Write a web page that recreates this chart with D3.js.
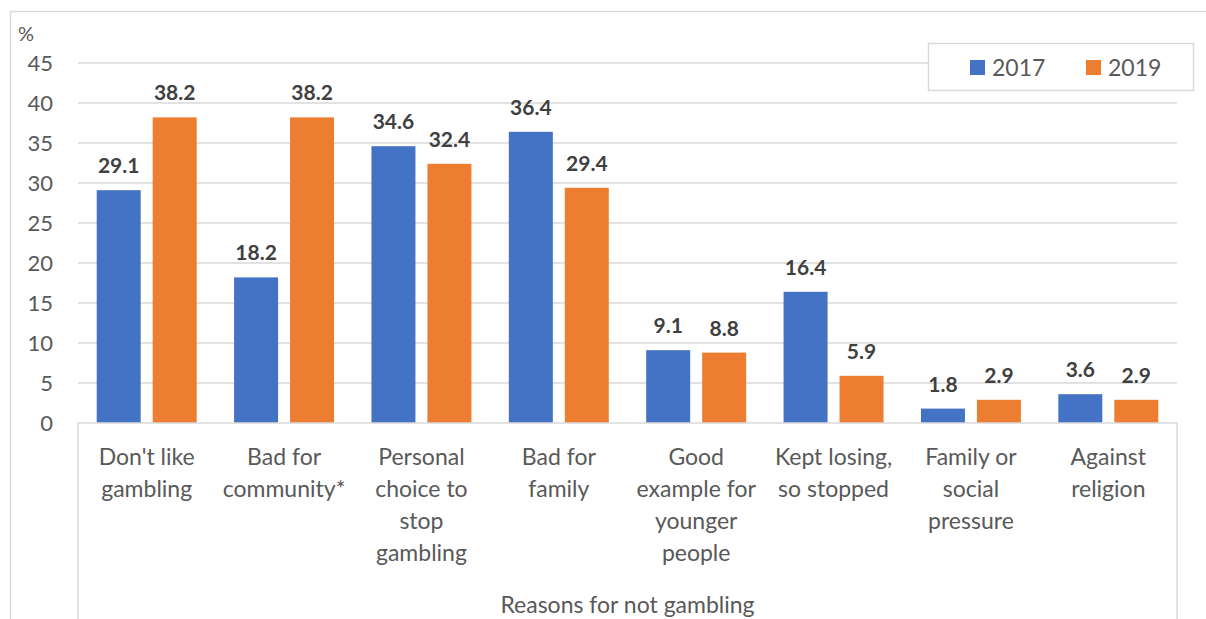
<!DOCTYPE html>
<html>
<head>
    <meta charset="utf-8" />
    <title>Reasons for not gambling</title>
    <script src="https://cdn.jsdelivr.net/npm/d3@7/dist/d3.min.js"></script>
    <style>
        body { margin: 0; background: #fff; }
        text { font-family: Lato, "Open Sans", sans-serif; }
    </style>
</head>
<body>
    <script>
        var categories = [
            ["Don't like", "gambling"],
            ["Bad for", "community*"],
            ["Personal", "choice to", "stop", "gambling"],
            ["Bad for", "family"],
            ["Good", "example for", "younger", "people"],
            ["Kept losing,", "so stopped"],
            ["Family or", "social", "pressure"],
            ["Against", "religion"]
        ];
        var values2017 = [29.1, 18.2, 34.6, 36.4, 9.1, 16.4, 1.8, 3.6];
        var values2019 = [38.2, 38.2, 32.4, 29.4, 8.8, 5.9, 2.9, 2.9];
        var seriesNames = ["2017", "2019"];
        var yTicks = [0, 5, 10, 15, 20, 25, 30, 35, 40, 45];

        var width = 1206, height = 619;
        var plotLeft = 78, plotRight = 1177, plotTop = 63, plotBottom = 423;
        var colors = ["#4472C4", "#ED7D31"];
        var gridColor = "#d9d9d9";
        var textColor = "#595959";

        var svg = d3.select("body").append("svg")
            .attr("width", width)
            .attr("height", height);

        // outer frame (only top and left are visible in the crop)
        svg.append("path")
            .attr("d", "M10.5,619 V11.5 H1206")
            .attr("fill", "none")
            .attr("stroke", gridColor)
            .attr("stroke-width", 1.5);

        var x0 = d3.scaleBand()
            .domain(d3.range(categories.length))
            .range([plotLeft, plotRight]);

        var x1 = d3.scaleBand()
            .domain(seriesNames)
            .range([0, x0.bandwidth()])
            .paddingInner(0.214)
            .paddingOuter(0.334);

        var y = d3.scaleLinear()
            .domain([0, 45])
            .range([plotBottom, plotTop]);

        // gridlines
        svg.append("g").selectAll("line")
            .data(yTicks.filter(function (d) { return d > 0; }))
            .enter().append("line")
            .attr("x1", plotLeft).attr("x2", plotRight)
            .attr("y1", function (d) { return y(d); })
            .attr("y2", function (d) { return y(d); })
            .attr("stroke", gridColor)
            .attr("stroke-width", 1.5);

        // y tick labels
        svg.append("g").selectAll("text")
            .data(yTicks)
            .enter().append("text")
            .attr("x", 53)
            .attr("y", function (d) { return y(d); })
            .attr("dy", "0.36em")
            .attr("text-anchor", "end")
            .attr("font-size", 22)
            .attr("fill", textColor)
            .text(function (d) { return d; });

        svg.append("text")
            .attr("x", 18).attr("y", 41)
            .attr("font-size", 20)
            .attr("fill", textColor)
            .text("%");

        // bars
        var data = categories.map(function (c, i) {
            return [values2017[i], values2019[i]];
        });

        var groups = svg.append("g").selectAll("g")
            .data(data)
            .enter().append("g")
            .attr("transform", function (d, i) { return "translate(" + x0(i) + ",0)"; });

        groups.selectAll("rect")
            .data(function (d) { return d; })
            .enter().append("rect")
            .attr("x", function (d, j) { return x1(seriesNames[j]); })
            .attr("width", x1.bandwidth())
            .attr("y", function (d) { return y(d); })
            .attr("height", function (d) { return y(0) - y(d); })
            .attr("fill", function (d, j) { return colors[j]; });

        groups.selectAll("text.val")
            .data(function (d) { return d; })
            .enter().append("text")
            .attr("class", "val")
            .attr("x", function (d, j) { return x1(seriesNames[j]) + x1.bandwidth() / 2; })
            .attr("y", function (d) { return y(d) - 17; })
            .attr("text-anchor", "middle")
            .attr("font-size", 21)
            .attr("font-weight", "bold")
            .attr("fill", "#404040")
            .text(function (d) { return d.toFixed(1); });

        // category axis box
        svg.append("path")
            .attr("d", "M" + plotLeft + ",619 V" + plotBottom + " H" + plotRight + " V619")
            .attr("fill", "none")
            .attr("stroke", gridColor)
            .attr("stroke-width", 1.5);

        // category labels
        var catLabels = svg.append("g").selectAll("text")
            .data(categories)
            .enter().append("text")
            .attr("x", function (d, i) { return x0(i) + x0.bandwidth() / 2; })
            .attr("y", 465)
            .attr("text-anchor", "middle")
            .attr("font-size", 23)
            .attr("fill", textColor);

        catLabels.selectAll("tspan")
            .data(function (d) { return d; })
            .enter().append("tspan")
            .attr("x", function () { return d3.select(this.parentNode).attr("x"); })
            .attr("dy", function (d, k) { return k === 0 ? 0 : 32; })
            .text(function (d) { return d; });

        svg.append("text")
            .attr("x", (plotLeft + plotRight) / 2)
            .attr("y", 613)
            .attr("text-anchor", "middle")
            .attr("font-size", 23)
            .attr("fill", textColor)
            .text("Reasons for not gambling");

        // legend
        var legend = svg.append("g");
        legend.append("rect")
            .attr("x", 928.5).attr("y", 43.5)
            .attr("width", 265).attr("height", 47)
            .attr("fill", "#fff")
            .attr("stroke", gridColor)
            .attr("stroke-width", 1.5);

        var items = legend.selectAll("g")
            .data(seriesNames)
            .enter().append("g")
            .attr("transform", function (d, i) { return "translate(" + (970 + i * 116) + ",60)"; });

        items.append("rect")
            .attr("width", 15).attr("height", 15)
            .attr("fill", function (d, i) { return colors[i]; });

        items.append("text")
            .attr("x", 22).attr("y", 16)
            .attr("font-size", 23)
            .attr("fill", textColor)
            .text(function (d) { return d; });
    </script>
</body>
</html>
